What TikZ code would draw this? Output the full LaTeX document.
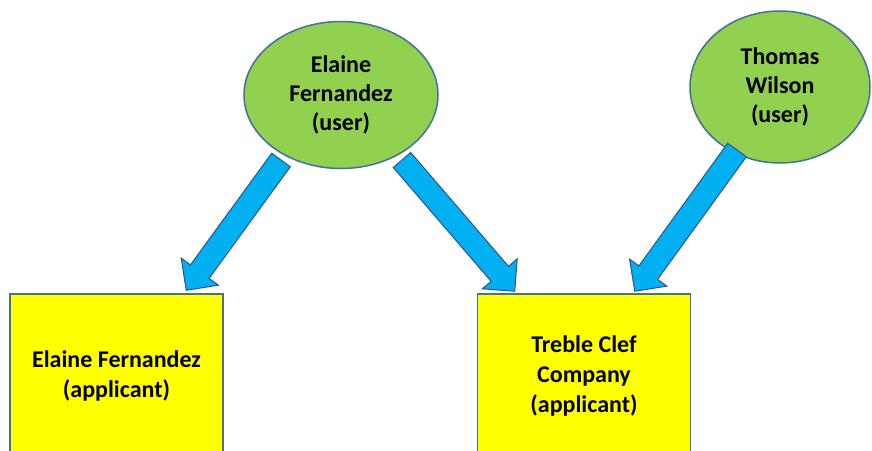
\documentclass[tikz,border=0pt]{standalone}
\usepackage{fontspec}
\setmainfont{Carlito}
\usetikzlibrary{calc,shapes.geometric}
\definecolor{usergreen}{HTML}{92D050}
\definecolor{appyellow}{HTML}{FFFF00}
\definecolor{arrowblue}{HTML}{00B0F0}
\definecolor{edgeblue}{HTML}{41719C}
\definecolor{arrowedge}{HTML}{2F528F}
\tikzset{
  userell/.style={ellipse, draw=edgeblue, fill=usergreen, line width=1.5pt, inner sep=0pt, align=center,
    font=\fontsize{24}{29}\selectfont\bfseries},
  appbox/.style={rectangle, draw=edgeblue, fill=appyellow, line width=1.5pt, inner sep=0pt, align=center,
    minimum width=213pt, minimum height=164pt, font=\fontsize{24}{30}\selectfont\bfseries},
  blockarr/.style={draw=arrowedge, fill=arrowblue, line width=1pt, line join=miter}
}
\newcommand\blockarrow[2]{%
  \draw[blockarr] ($(#1)!11.5pt!90:(#2)$)
    -- ($(#2)!23pt!(#1)!11.5pt!90:(#2)$)
    -- ($(#2)!23pt!(#1)!23pt!90:(#2)$)
    -- (#2)
    -- ($(#2)!23pt!(#1)!23pt!-90:(#2)$)
    -- ($(#2)!23pt!(#1)!11.5pt!-90:(#2)$)
    -- ($(#1)!11.5pt!-90:(#2)$) -- cycle;}
\begin{document}
\begin{tikzpicture}[x=1pt,y=-1pt]
\clip (0,0) rectangle (872,450);
\fill[white] (0,0) rectangle (872,450);
\node[userell, minimum width=194pt, minimum height=147pt] (e1) at (341,95) {Elaine\\Fernandez\\(user)};
\node[userell, minimum width=180pt, minimum height=152pt] (e2) at (780,87) {Thomas\\Wilson\\(user)};
\node[appbox] (b1) at (116.5,376) {Elaine Fernandez\\(applicant)};
\node[appbox] (b2) at (584,376) {Treble Clef\\Company\\(applicant)};
\coordinate (t1) at ([xshift=-60pt,yshift=-65pt]e1.center);
\coordinate (t2) at ([xshift=61pt,yshift=-65pt]e1.center);
\coordinate (t3) at ([xshift=-43pt,yshift=-63pt]e2.center);
\coordinate (h1) at ([xshift=177pt,yshift=3pt]b1.north west);
\coordinate (h2) at ([xshift=38pt,yshift=2pt]b2.north west);
\coordinate (h3) at ([xshift=158pt,yshift=2pt]b2.north west);
\blockarrow{t1}{h1}
\blockarrow{t2}{h2}
\blockarrow{t3}{h3}
\end{tikzpicture}
\end{document}
